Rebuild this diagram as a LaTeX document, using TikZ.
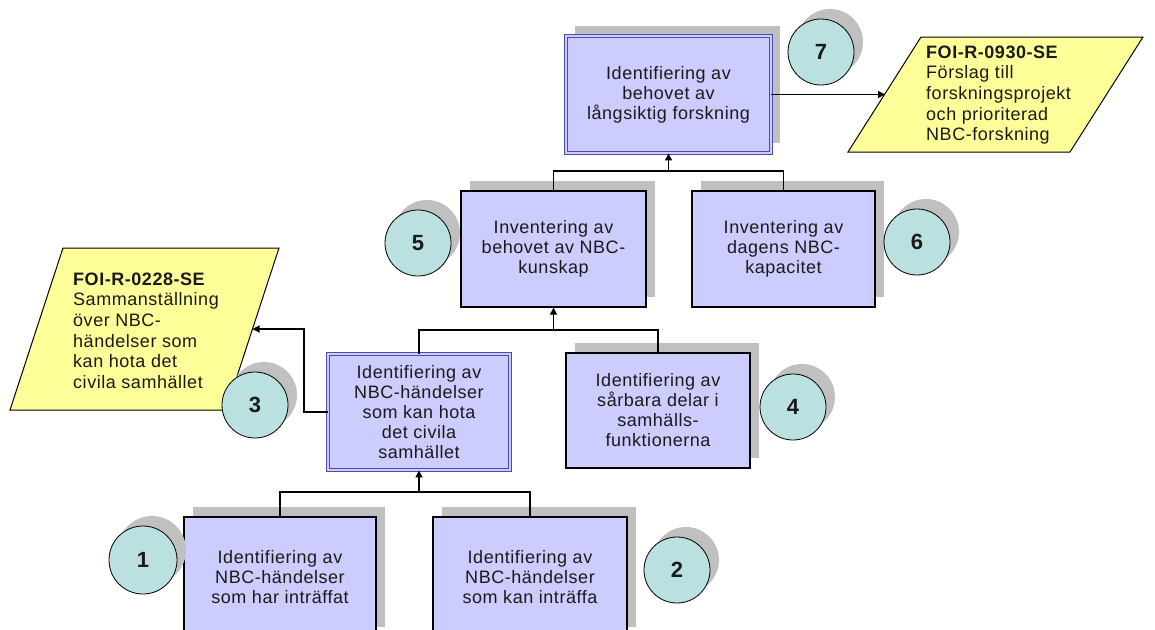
\documentclass[tikz,border=0pt]{standalone}
\usepackage{fontspec}
\setmainfont{Liberation Sans}[LetterSpace=3]
\usetikzlibrary{arrows.meta,shadows}
\definecolor{boxfill}{HTML}{CCCCFF}
\definecolor{circfill}{HTML}{BBE0E0}
\definecolor{shgray}{HTML}{C0C0C0}
\definecolor{yel}{HTML}{FFFF99}
\definecolor{dblue}{HTML}{4C4CB0}
\definecolor{txt}{HTML}{1A1A1A}
\tikzset{
  shd/.style={drop shadow={shadow xshift=9pt,shadow yshift=10pt,fill=shgray,opacity=1}},
  basebox/.style={rectangle,align=center,inner sep=0pt,text=txt,
    font=\fontsize{18}{20}\selectfont},
  stepbox/.style={basebox,draw=black,line width=1.3pt,fill=boxfill},
  keybox/.style={basebox,draw=dblue,double=boxfill,double distance=2pt,
    line width=0.9pt,fill=boxfill},
  num/.style={circle,draw=black,line width=0.8pt,fill=circfill,minimum size=66pt,
    inner sep=0pt,text=txt,font=\fontsize{22}{24}\selectfont\bfseries,shd},
  para/.style={draw=black,line width=1pt,fill=yel},
  ptext/.style={align=left,anchor=west,inner sep=0pt,text=txt,
    font=\fontsize{18}{20.6}\selectfont},
  conn/.style={line width=1.2pt,draw=black},
  arr/.style={conn,-{Triangle[length=7pt,width=7pt]}},
}
\begin{document}
\begin{tikzpicture}[x=1pt,y=-1pt]
\useasboundingbox (0,0) rectangle (1155,629);
\clip (0,0) rectangle (1155,629);
\fill[white] (0,0) rectangle (1155,629);

% output documents (parallelograms)
\draw[para] (921,37) -- (1143,37) -- (1070,152) -- (848,152) -- cycle;
\node[ptext] (r930) at (926,95) {\textbf{FOI-R-0930-SE}\\Förslag till\\forskningsprojekt\\och prioriterad\\NBC-forskning};
\coordinate (p1e) at (885,94.5);

\draw[para] (63,248) -- (279,248) -- (226,410) -- (10,410) -- cycle;
\node[ptext] (r228) at (73,330.5) {\textbf{FOI-R-0228-SE}\\Sammanställning\\över NBC-\\händelser som\\kan hota det\\civila samhället};
\coordinate (p2e) at (252.5,329);

% boxes
\node[keybox,shd,minimum width=205pt,minimum height=117pt] (b7) at (668.5,94.5)
  {Identifiering av\\behovet av\\långsiktig forskning};
\node[stepbox,shd,minimum width=185pt,minimum height=116pt] (b5) at (553.5,249)
  {Inventering av\\behovet av NBC-\\kunskap};
\node[stepbox,shd,minimum width=183pt,minimum height=116pt] (b6) at (783.5,249)
  {Inventering av\\dagens NBC-\\kapacitet};
\node[keybox,minimum width=182pt,minimum height=116pt] (b3) at (419,412)
  {Identifiering av\\NBC-händelser\\som kan hota\\det civila\\samhället};
\node[stepbox,shd,minimum width=184pt,minimum height=115pt] (b4) at (658,410.5)
  {Identifiering av\\sårbara delar i\\samhälls-\\funktionerna};
\node[stepbox,shd,minimum width=192pt,minimum height=120pt] (b1) at (280,577)
  {Identifiering av\\NBC-händelser\\som har inträffat};
\node[stepbox,shd,minimum width=194pt,minimum height=120pt] (b2) at (530,577)
  {Identifiering av\\NBC-händelser\\som kan inträffa};

% numbered circles
\node[num] (c7) at (821,52) {7};
\node[num] (c5) at (418,243) {5};
\node[num] (c6) at (917,242) {6};
\node[num] (c3) at (255,405) {3};
\node[num] (c4) at (793,407) {4};
\node[num,minimum size=68pt] (c1) at (143,560) {1};
\node[num] (c2) at (677,570) {2};

% connectors
\coordinate (j1) at (668.5,171);
\draw[conn] (b5.north) |- (j1) -| (b6.north);
\draw[arr] (j1) -- (b7.south);

\coordinate (j2) at (553.5,330);
\draw[conn] (b3.north) |- (j2) -| (b4.north);
\draw[arr] (j2) -- (b5.south);

\coordinate (j3) at (419,492);
\draw[conn] (b1.north) |- (j3) -| (b2.north);
\draw[arr] (j3) -- (b3.south);

\coordinate (k3) at (304,412);
\draw[arr] (b3.west) -- (k3) |- (p2e);
\draw[arr] (b7.east) -- (p1e);
\end{tikzpicture}
\end{document}
